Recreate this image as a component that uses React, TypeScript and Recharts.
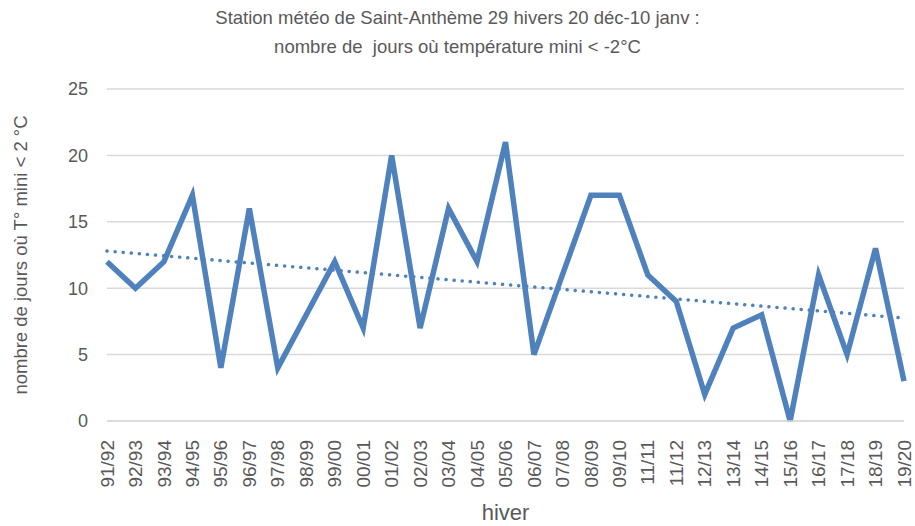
import React from "react";
import { LineChart, Line, CartesianGrid, XAxis, YAxis, Label } from "recharts";

// winters (typo "11/11" kept as in the source chart)
const winters: string[] = [
  "91/92", "92/93", "93/94", "94/95", "95/96", "96/97", "97/98", "98/99",
  "99/00", "00/01", "01/02", "02/03", "03/04", "04/05", "05/06", "06/07",
  "07/08", "08/09", "09/10", "11/11", "11/12", "12/13", "13/14", "14/15",
  "15/16", "16/17", "17/18", "18/19", "19/20",
];

// days with minimum temperature below -2°C
const frostDays: number[] = [
  12, 10, 12, 17, 4, 16, 4, 8, 12, 7, 20, 7, 16, 12, 21, 5, 11, 17, 17, 11,
  9, 2, 7, 8, 0, 11, 5, 13, 3,
];

// linear trend line end points
const trendStart = 12.8;
const trendEnd = 7.75;

const yTicks: number[] = [0, 5, 10, 15, 20, 25];

const data = winters.map((w, i) => ({
  winter: w,
  days: frostDays[i],
  trend: i === 0 ? trendStart : i === winters.length - 1 ? trendEnd : null,
}));

const FONT = "'Liberation Sans', Arial, sans-serif";
const TEXT = "#595959";
const BLUE = "#4f81bd";

function WinterTick(props: any) {
  const { x, y, payload } = props;
  const ty = y + 11;
  return (
    <text
      x={x}
      y={ty}
      transform={`rotate(-90, ${x}, ${ty})`}
      textAnchor="end"
      dy="0.35em"
      fill={TEXT}
      fontSize={19}
      fontFamily={FONT}
    >
      {payload.value}
    </text>
  );
}

export default function App() {
  return (
    <div
      style={{
        position: "absolute",
        left: 0,
        top: 0,
        width: 915,
        height: 526,
        background: "#fff",
        fontFamily: FONT,
      }}
    >
      <div
        style={{
          position: "absolute",
          left: 0,
          top: 3,
          width: 915,
          textAlign: "center",
          color: TEXT,
          fontSize: 18.5,
          lineHeight: "29px",
          whiteSpace: "pre",
        }}
      >
        {"Station météo de Saint-Anthème 29 hivers 20 déc-10 janv :\nnombre de  jours où température mini < -2°C"}
      </div>
      <LineChart
        width={915}
        height={526}
        data={data}
        margin={{ top: 89, right: 11, left: 0, bottom: 0 }}
      >
        <CartesianGrid vertical={false} stroke="#d9d9d9" strokeWidth={1.5} />
        <XAxis
          dataKey="winter"
          height={105}
          interval={0}
          tickLine={false}
          axisLine={{ stroke: "#d9d9d9", strokeWidth: 1.5 }}
          tick={<WinterTick />}
        >
          <Label
            value="hiver"
            position="insideBottom"
            offset={6}
            fill={TEXT}
            fontSize={22}
            fontFamily={FONT}
          />
        </XAxis>
        <YAxis
          width={107}
          domain={[0, 25]}
          ticks={yTicks}
          interval={0}
          axisLine={false}
          tickLine={false}
          tickMargin={13}
          tick={{ fill: TEXT, fontSize: 18, fontFamily: FONT }}
        >
          <Label
            value="nombre de jours où T° mini < 2 °C"
            angle={-90}
            position="insideLeft"
            offset={20}
            style={{ textAnchor: "middle" }}
            fill={TEXT}
            fontSize={18.5}
            fontFamily={FONT}
          />
        </YAxis>
        <Line
          type="linear"
          dataKey="days"
          stroke={BLUE}
          strokeWidth={5.5}
          dot={false}
          activeDot={false}
          isAnimationActive={false}
        />
        <Line
          type="linear"
          dataKey="trend"
          stroke={BLUE}
          strokeWidth={3.5}
          strokeDasharray="0.1 8"
          strokeLinecap="round"
          connectNulls
          dot={false}
          activeDot={false}
          isAnimationActive={false}
        />
      </LineChart>
    </div>
  );
}
